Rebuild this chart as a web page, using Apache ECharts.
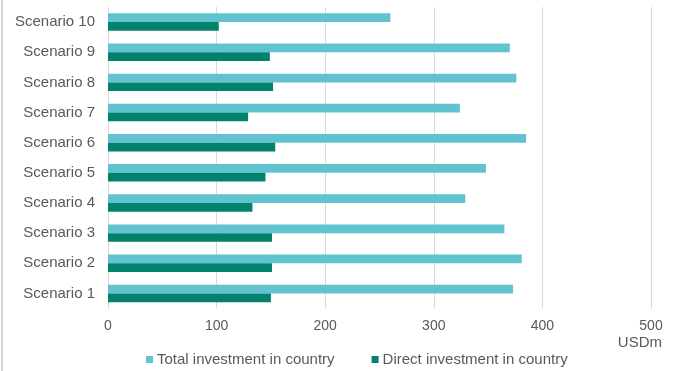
<!DOCTYPE html>
<html>
<head>
<meta charset="utf-8">
<script src="https://cdn.jsdelivr.net/npm/echarts@6/dist/echarts.min.js"></script>
<style>
  html, body { margin: 0; padding: 0; background: #ffffff; }
  #chart { width: 683px; height: 371px; }
</style>
</head>
<body>
<div id="chart"></div>
<script>
// Scenarios listed bottom to top
const scenarios = ['Scenario 1', 'Scenario 2', 'Scenario 3', 'Scenario 4', 'Scenario 5',
                   'Scenario 6', 'Scenario 7', 'Scenario 8', 'Scenario 9', 'Scenario 10'];
// Investment, USDm
const totalInvestment  = [373, 381, 365, 329, 348, 385, 324, 376, 370, 260];
const directInvestment = [150, 151, 151, 133, 145, 154, 129, 152, 149, 102];
const xTicks = { min: 0, max: 500, step: 100 };
const seriesNames = ['Total investment in country', 'Direct investment in country'];

const textColor = '#595959';
const font = '"Liberation Sans", Arial, sans-serif';

const chart = echarts.init(document.getElementById('chart'), null, { renderer: 'canvas' });
chart.setOption({
  animation: false,
  backgroundColor: '#ffffff',
  grid: { left: 108, right: 32, top: 7, bottom: 62.5, containLabel: false },
  legend: {
    data: seriesNames,
    left: 146,
    top: 352,
    padding: 0,
    icon: 'rect',
    itemWidth: 7,
    itemHeight: 7,
    itemGap: 37,
    textStyle: { color: textColor, fontSize: 15, fontFamily: font, padding: [0, 0, 0, -1] }
  },
  xAxis: {
    type: 'value',
    min: xTicks.min,
    max: xTicks.max,
    interval: xTicks.step,
    axisLine: { show: false },
    axisTick: { show: false },
    axisLabel: { color: textColor, fontSize: 14, fontFamily: font, margin: 11 },
    splitLine: { lineStyle: { color: '#d9d9d9', width: 1 } }
  },
  yAxis: {
    type: 'category',
    data: scenarios,
    axisLine: { show: false },
    axisTick: { show: false },
    axisLabel: { color: textColor, fontSize: 15, fontFamily: font, margin: 13 }
  },
  series: [
    {
      name: seriesNames[0],
      type: 'bar',
      data: totalInvestment,
      barGap: '0%',
      barCategoryGap: '42%',
      itemStyle: { color: '#62c3d0' }
    },
    {
      name: seriesNames[1],
      type: 'bar',
      data: directInvestment,
      barGap: '0%',
      barCategoryGap: '42%',
      itemStyle: { color: '#00826c' }
    }
  ],
  graphic: [
    {
      type: 'text',
      right: 21,
      top: 335,
      style: { text: 'USDm', fill: textColor, font: '15px ' + font }
    },
    {
      type: 'rect',
      shape: { x: 1.5, y: 0, width: 1, height: 371 },
      style: { fill: '#a6a6a6' }
    }
  ]
});
</script>
</body>
</html>
